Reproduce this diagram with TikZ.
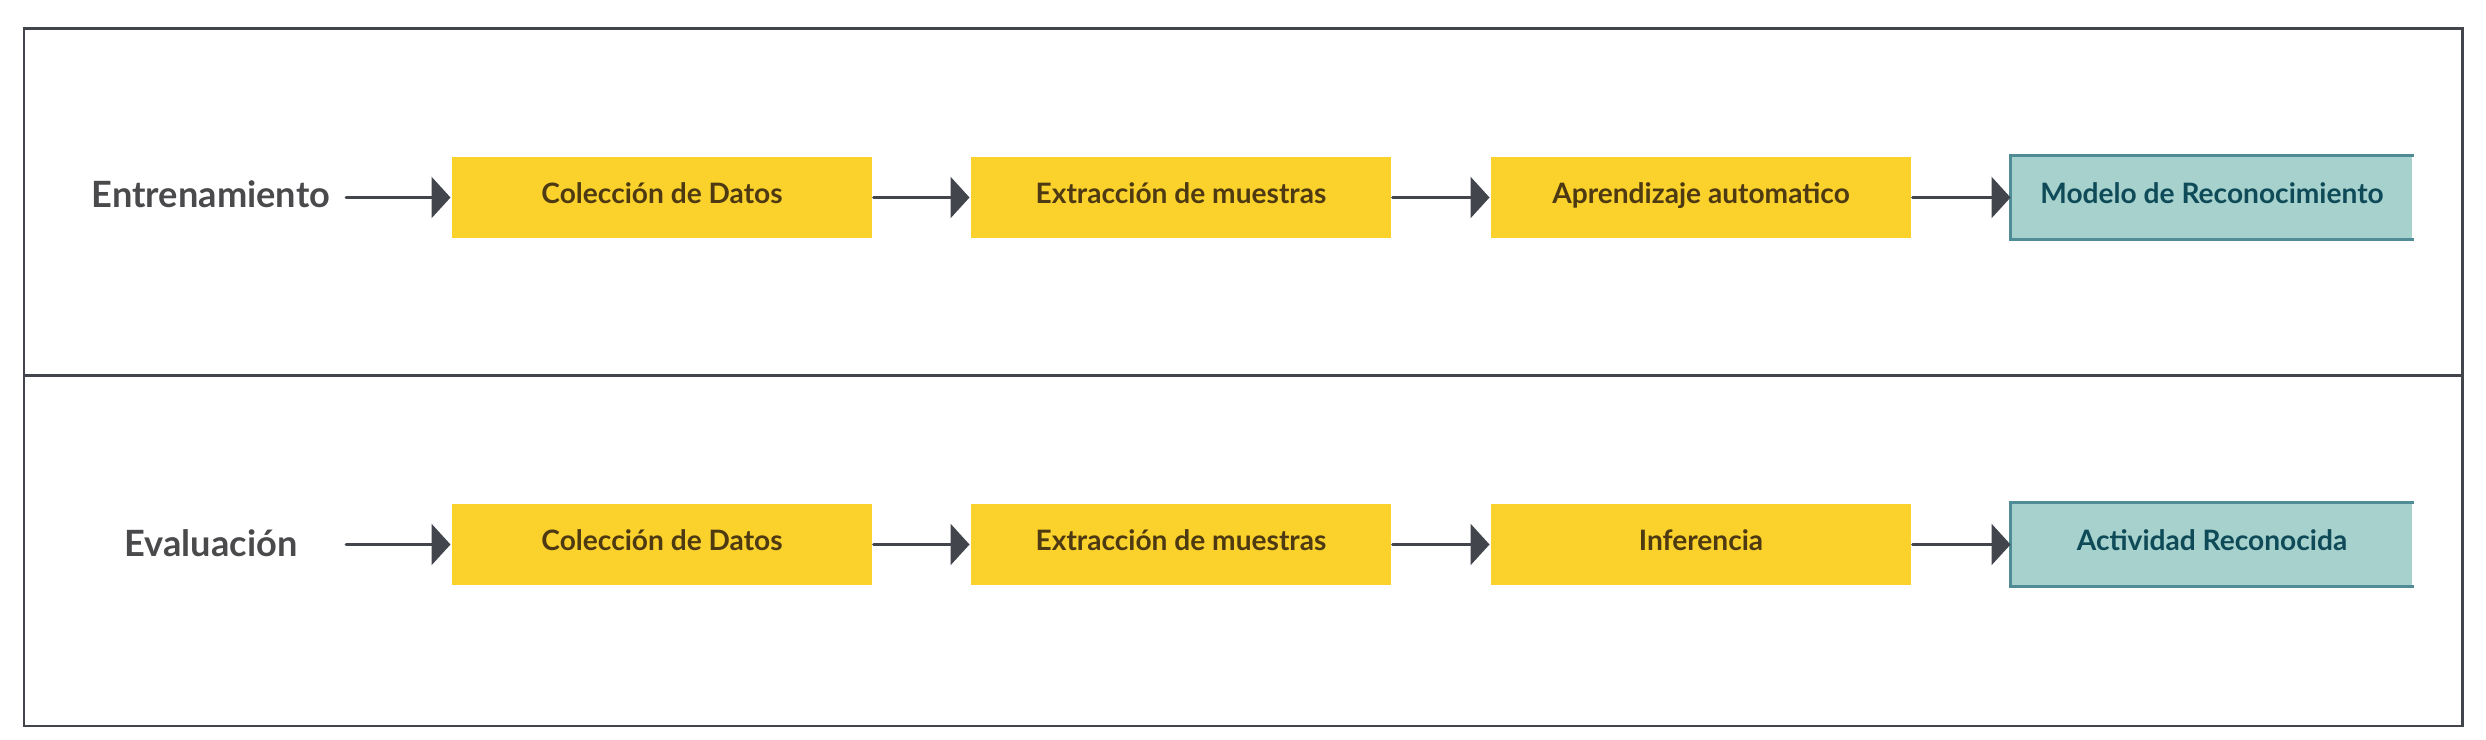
\documentclass[tikz,border=0pt]{standalone}
\usepackage{fontspec}
\setmainfont{Lato}
\usetikzlibrary{arrows.meta}

\definecolor{boxyellow}{HTML}{FBD12B}
\definecolor{boxtext}{HTML}{4D3A12}
\definecolor{tealfill}{HTML}{A6D1CD}
\definecolor{tealline}{HTML}{4F8C96}
\definecolor{tealtext}{HTML}{0E4A57}
\definecolor{linegray}{HTML}{42454C}
\definecolor{labelgray}{HTML}{4A4A4C}

\begin{document}
\begin{tikzpicture}[line width=0.85pt,
  phase/.style={font=\bfseries\fontsize{10.3}{12}\selectfont,text=labelgray},
  stage/.style={fill=boxyellow,minimum width=4.2cm,minimum height=0.81cm,inner sep=0pt,text depth=0.08cm,font=\bfseries\fontsize{8}{9}\selectfont,text=boxtext},
  result/.style={fill=tealfill,minimum width=4cm,minimum height=0.81cm,inner sep=0pt,text depth=0.08cm,font=\bfseries\fontsize{8}{9}\selectfont,text=tealtext},
  flow/.style={draw=linegray,-{Triangle[length=1.9mm,width=4.1mm]},line cap=round}]
  \useasboundingbox (0,0) rectangle (24.86,-7.40);
  \draw[linegray] (0.24,-0.285) rectangle (24.62,-7.26);
  \draw[linegray] (0.24,-3.76) -- (24.62,-3.76);

  % entrenamiento
  \node[phase] (ent) at (2.11,-1.94) {Entrenamiento};
  \coordinate (ent0) at (3.46,-1.975);
  \node[stage] (ent1) at (6.62,-1.975) {Colección de Datos};
  \node[stage] (ent2) at (11.81,-1.975) {Extracción de muestras};
  \node[stage] (ent3) at (17.01,-1.975) {Aprendizaje automatico};
  \node[result] (ent4) at (22.12,-1.975) {Modelo de Reconocimiento};
  \draw[tealline,line width=0.75pt] (ent4.north east) -- (ent4.north west) -- (ent4.south west) -- (ent4.south east);

  % evaluacion
  \node[phase] (eva) at (2.11,-5.43) {Evaluación};
  \coordinate (eva0) at (3.46,-5.445);
  \node[stage] (eva1) at (6.62,-5.445) {Colección de Datos};
  \node[stage] (eva2) at (11.81,-5.445) {Extracción de muestras};
  \node[stage] (eva3) at (17.01,-5.445) {Inferencia};
  \node[result] (eva4) at (22.12,-5.445) {Actividad Reconocida};
  \draw[tealline,line width=0.75pt] (eva4.north east) -- (eva4.north west) -- (eva4.south west) -- (eva4.south east);

\path[every edge/.style=flow]
  (ent0) edge (ent1)
  (ent1) edge (ent2)
  (ent2) edge (ent3)
  (ent3) edge (ent4)
  (eva0) edge (eva1)
  (eva1) edge (eva2)
  (eva2) edge (eva3)
  (eva3) edge (eva4)
;
\end{tikzpicture}
\end{document}
